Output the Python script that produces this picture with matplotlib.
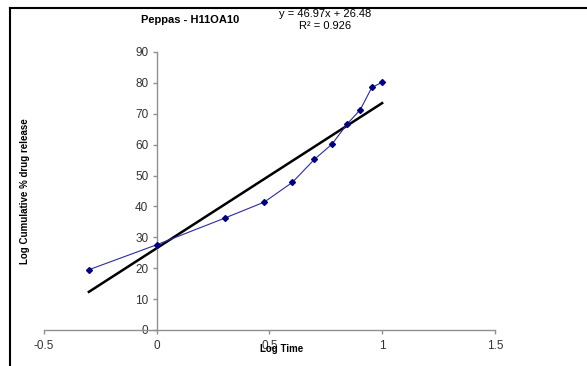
import numpy as np
import matplotlib
matplotlib.use("Agg")
import matplotlib.pyplot as plt
from matplotlib.lines import Line2D

plt.rcParams['font.family'] = ['Liberation Sans', 'DejaVu Sans']

# Peppas data: log time vs cumulative % drug release
log_time = [-0.301, 0.0, 0.301, 0.477, 0.602, 0.699, 0.778, 0.845, 0.903, 0.954, 1.0]
release = [19.5, 27.6, 36.2, 41.4, 47.8, 55.2, 60.2, 66.7, 71.3, 78.5, 80.2]

# linear trend line
slope = 46.97
intercept = 26.48
r2 = 0.926

title = "Peppas - H11OA10"

fig = plt.figure(figsize=(5.87, 3.66), dpi=100)
ax = fig.add_axes([0.075, 0.0984, 0.768, 0.7596])

ax.plot(log_time, release, color='#2b2ba0', linewidth=0.8,
        marker='D', markersize=3.0, markerfacecolor='#000080',
        markeredgecolor='#000080', zorder=3)

trend_x = np.array([log_time[0], log_time[-1]])
ax.plot(trend_x, slope * trend_x + intercept, color='black', linewidth=1.8, zorder=2)

ax.set_xlim(-0.5, 1.5)
ax.set_ylim(0, 90)
ax.set_xticks([-0.5, 0, 0.5, 1, 1.5])
ax.set_xticklabels(['-0.5', '0', '0.5', '1', '1.5'])
ax.set_yticks(range(0, 91, 10))

# axes cross at zero, like the Excel chart
ax.spines['left'].set_position(('data', 0))
ax.spines['bottom'].set_position(('data', 0))
ax.spines['top'].set_visible(False)
ax.spines['right'].set_visible(False)
for s in ['left', 'bottom']:
    ax.spines[s].set_color('#909090')
    ax.spines[s].set_linewidth(1.0)

ax.tick_params(axis='both', colors='#909090', labelcolor='#333333',
               labelsize=8.5, length=3, width=1.0)
ax.tick_params(axis='x', pad=4)
ax.tick_params(axis='y', pad=3)

fontdict = {'fontsize': 7, 'fontweight': 'bold'}
ax.set_xlabel("Log Time", fontdict)
ax.set_ylabel("Log Cumulative % drug release", fontdict)
ax.xaxis.set_label_coords(0.527, -0.052)
ax.yaxis.set_label_coords(-0.031, 0.5)

fig.text(190 / 587, 1 - 20 / 366, title, ha='center', va='center',
         fontsize=8, fontweight='bold')
fig.text(325 / 587, 1 - 14 / 366, "y = %.2fx + %.2f" % (slope, intercept),
         ha='center', va='center', fontsize=8)
fig.text(325 / 587, 1 - 26 / 366, "R² = %.3f" % r2,
         ha='center', va='center', fontsize=8)

# black frame lines on the left and top edges
fig.add_artist(Line2D([10 / 587, 10 / 587], [0, 1 - 8 / 366],
                      transform=fig.transFigure, color='black', linewidth=1.5))
fig.add_artist(Line2D([10 / 587, 1], [1 - 8 / 366, 1 - 8 / 366],
                      transform=fig.transFigure, color='black', linewidth=1.5))

plt.savefig('out.png', dpi=100)
